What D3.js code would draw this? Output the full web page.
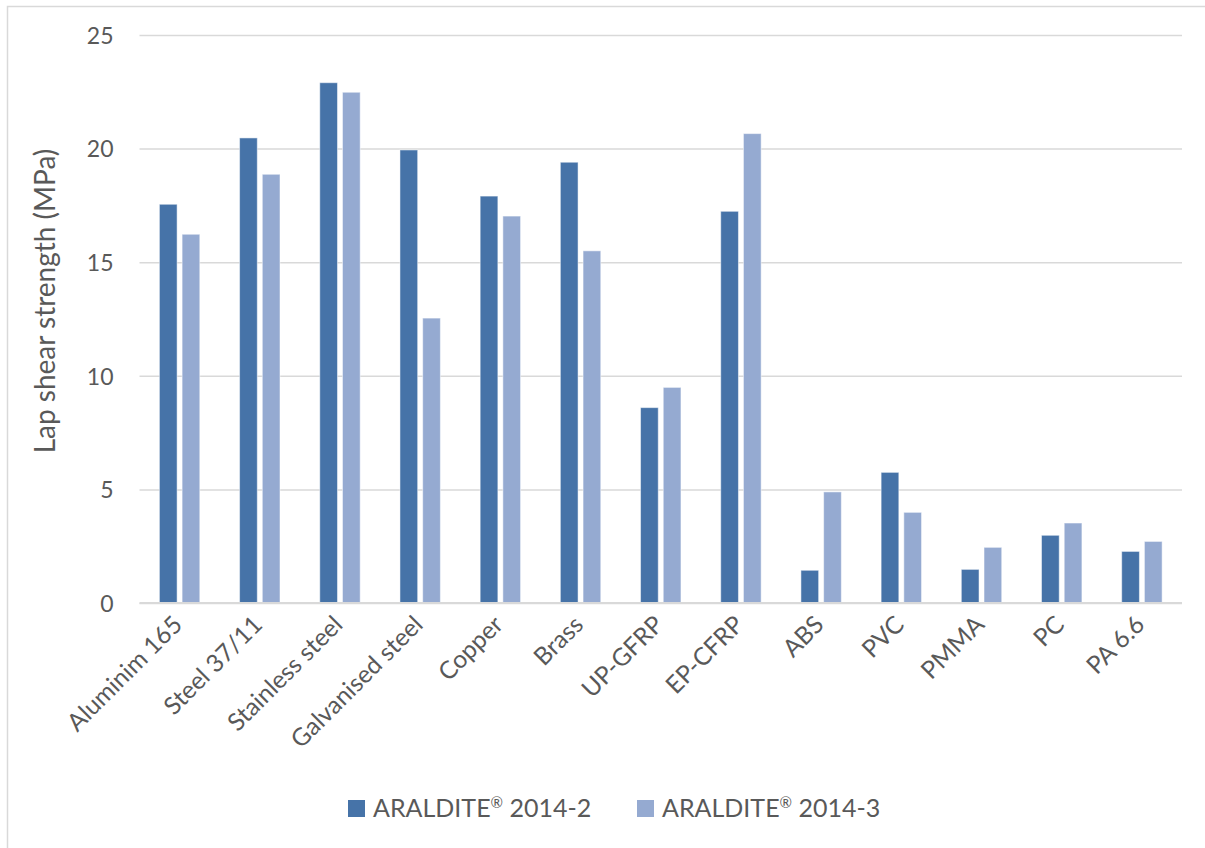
<!DOCTYPE html>
<html>
<head>
<meta charset="utf-8">
<script src="https://cdn.jsdelivr.net/npm/d3@7"></script>
<style>
  html, body { margin: 0; padding: 0; background: #fff; }
  svg { display: block; }
  text { font-family: Lato, "Open Sans", sans-serif; fill: #595959; }
</style>
</head>
<body>
<svg id="chart" width="1205" height="848"></svg>
<script>
const categories = ["Aluminim 165", "Steel 37/11", "Stainless steel", "Galvanised steel", "Copper", "Brass", "UP-GFRP", "EP-CFRP", "ABS", "PVC", "PMMA", "PC", "PA 6.6"];
const seriesNames = ["ARALDITE® 2014-2", "ARALDITE® 2014-3"];
const values2014_2 = [17.55, 20.47, 22.9, 19.94, 17.91, 19.4, 8.6, 17.24, 1.44, 5.75, 1.48, 2.98, 2.27];
const values2014_3 = [16.23, 18.87, 22.48, 12.54, 17.03, 15.5, 9.49, 20.66, 4.89, 3.99, 2.45, 3.52, 2.71];
const yTicks = [0, 5, 10, 15, 20, 25];
const colors = ["#4673a8", "#95aad1"];
const yTitle = "Lap shear strength (MPa)";

const svg = d3.select("#chart");
const plot = { left: 139.5, right: 1182, top: 35, bottom: 603 };

// frame
svg.append("path")
  .attr("d", `M7.5,848 L7.5,6.5 L1205,6.5`)
  .attr("fill", "none").attr("stroke", "#d9d9d9").attr("stroke-width", 1.5);

const y = d3.scaleLinear().domain([0, 25]).range([plot.bottom, plot.top]);
const x0 = d3.scaleBand().domain(categories).range([plot.left, plot.right])
  .paddingInner(0.496).paddingOuter(0.248);
const x1 = d3.scaleBand().domain(seriesNames).range([0, x0.bandwidth()]).paddingInner(0.22);

// gridlines
const yAxis = d3.axisLeft(y).tickValues(yTicks).tickSize(-(plot.right - plot.left)).tickPadding(26);
const gy = svg.append("g").attr("transform", `translate(${plot.left},0)`).call(yAxis);
gy.select(".domain").remove();
gy.selectAll(".tick line").attr("stroke", "#d9d9d9").attr("stroke-width", 1.5);
gy.selectAll(".tick text").style("font-size", "23px").attr("fill", "#595959").attr("dy", "0.36em");

// bars
const data = categories.map((c, i) => ({ cat: c, vals: [values2014_2[i], values2014_3[i]] }));
const groups = svg.append("g").selectAll("g").data(data).join("g")
  .attr("transform", d => `translate(${x0(d.cat)},0)`);
groups.selectAll("rect").data(d => d.vals.map((v, j) => ({ s: seriesNames[j], v, j })))
  .join("rect")
  .attr("x", d => x1(d.s))
  .attr("width", x1.bandwidth())
  .attr("y", d => y(d.v))
  .attr("height", d => y(0) - y(d.v))
  .attr("fill", d => colors[d.j])
  .attr("stroke", "#ffffff").attr("stroke-opacity", 0.5).attr("stroke-width", 1);

// x axis line
svg.append("line")
  .attr("x1", plot.left).attr("x2", plot.right)
  .attr("y1", y(0)).attr("y2", y(0))
  .attr("stroke", "#d9d9d9").attr("stroke-width", 2);

// category labels
const xAxis = d3.axisBottom(x0).tickSize(0).tickPadding(0);
const gx = svg.append("g").attr("transform", `translate(0,${plot.bottom})`).call(xAxis);
gx.select(".domain").remove();
gx.selectAll(".tick text")
  .style("font-size", "24.5px")
  .attr("text-anchor", "end")
  .attr("transform", "translate(-8,11) rotate(-45)")
  .attr("dy", "0.7em")
  .attr("y", 0);

// y title
svg.append("text")
  .attr("transform", `translate(55,301) rotate(-90)`)
  .attr("text-anchor", "middle")
  .style("font-size", "28px")
  .text(yTitle);

// legend
const legendX = [348, 637];
const lg = svg.append("g").selectAll("g").data(seriesNames).join("g")
  .attr("transform", (d, i) => `translate(${legendX[i]},800)`);
lg.append("rect").attr("width", 17).attr("height", 17).attr("fill", (d, i) => colors[i]);
lg.append("text").attr("x", 25).attr("y", 17).style("font-size", "25px")
  .each(function(d) {
    const parts = d.split("®");
    const t = d3.select(this);
    t.append("tspan").text(parts[0]);
    t.append("tspan").text("®").style("font-size", "15px").attr("dy", "-9");
    t.append("tspan").text(parts[1]).attr("dy", "9");
  });
</script>
</body>
</html>
